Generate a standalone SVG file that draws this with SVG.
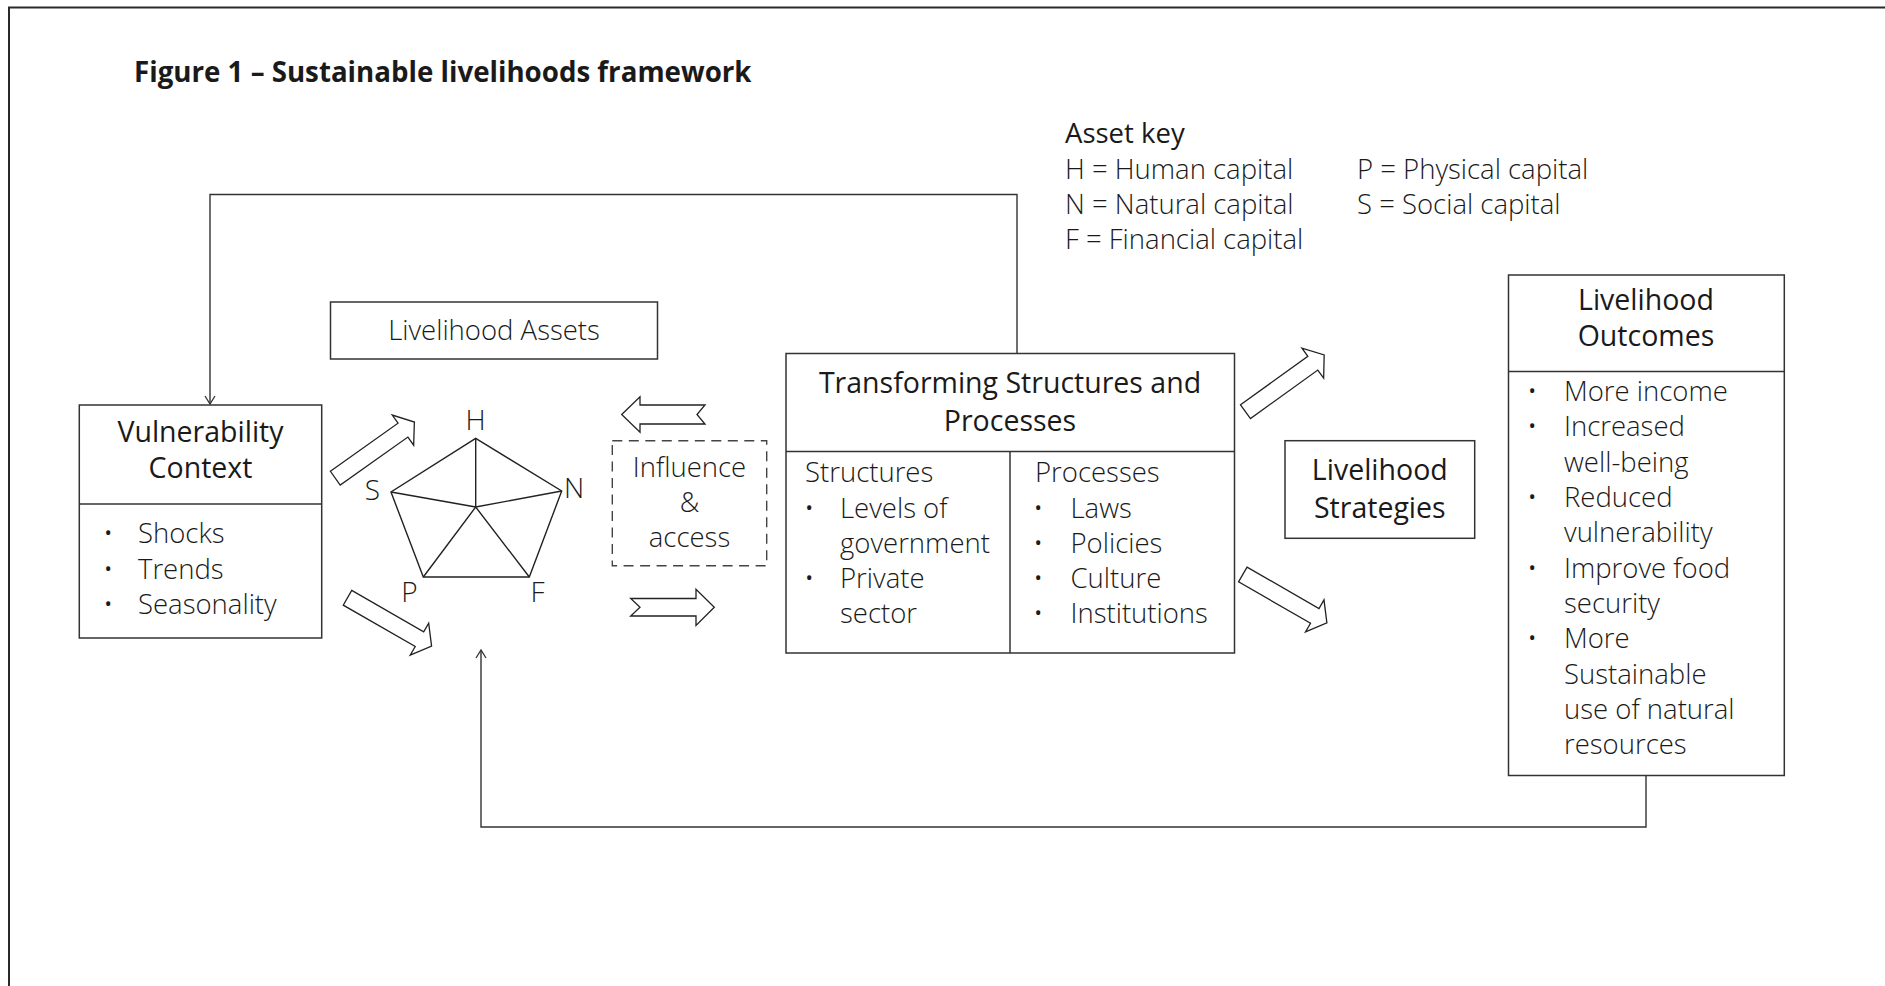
<svg xmlns="http://www.w3.org/2000/svg" xmlns:xlink="http://www.w3.org/1999/xlink" width="1885" height="986" viewBox="0 0 1885 986">
<style>
  text { font-family: "Open Sans", "Liberation Sans", Arial, sans-serif; fill: #1a1a1a; }
  .title { font-size: 27.7px; font-weight: 700; }
  .hd { font-size: 28.5px; font-weight: 400; text-anchor: middle; }
  .bd { font-size: 27.5px; font-weight: 300; }
  .bdc { font-size: 27.5px; font-weight: 300; text-anchor: middle; }
  .key { font-size: 27.5px; font-weight: 400; }
  .lbl { font-size: 28px; font-weight: 300; text-anchor: middle; }
  .box { fill: #fff; stroke: #333; stroke-width: 1.5; }
  .div { stroke: #333; stroke-width: 1.5; fill: none; }
  .dash { fill: none; stroke: #444; stroke-width: 1.4; stroke-dasharray: 10 6.5; }
  .pent { fill: none; stroke: #222; stroke-width: 1.4; stroke-linejoin: miter; }
  .conn { fill: none; stroke: #333; stroke-width: 1.4; }
  .blk { fill: #fff; stroke: #222; stroke-width: 1.3; stroke-linejoin: miter; }
  .frame { fill: none; stroke: #2a2a2a; stroke-width: 2; }
</style>
<defs>
  <marker id="vhead" markerUnits="userSpaceOnUse" markerWidth="12" markerHeight="12" refX="8" refY="5" orient="auto" overflow="visible">
    <path d="M0,0 L8,5 L0,10" fill="none" stroke="#333" stroke-width="1.3"/>
  </marker>
  <polygon id="diag" class="blk" points="0,-8.5 83,-8.5 83,-18.5 97,0 83,18.5 83,8.5 0,8.5"/>
</defs>

<path class="frame" d="M9,992 V7.5 H1892"/>

<text class="title" x="134" y="82">Figure 1 – Sustainable livelihoods framework</text>

<g id="asset-key">
  <text class="key" x="1065" y="142.5">Asset key</text>
  <text class="bd" x="1065" y="179">H = Human capital</text>
  <text class="bd" x="1065" y="213.5">N = Natural capital</text>
  <text class="bd" x="1065" y="248.5">F = Financial capital</text>
  <text class="bd" x="1357" y="179">P = Physical capital</text>
  <text class="bd" x="1357" y="213.5">S = Social capital</text>
</g>

<g id="connectors">
  <path class="conn" d="M1017,353 V194.5 H210 V404" marker-end="url(#vhead)"/>
  <path class="conn" d="M1646,775.5 V827 H481 V650" marker-end="url(#vhead)"/>
  <use xlink:href="#diag" transform="translate(335.3,478.2) rotate(-35.4)"/>
  <use xlink:href="#diag" transform="translate(347.5,597.8) rotate(29.9)"/>
  <use xlink:href="#diag" transform="translate(1245.5,411.7) rotate(-35.8)"/>
  <use xlink:href="#diag" transform="translate(1242.8,574.5) rotate(29.9)"/>
  <polygon class="blk" points="621.7,414.5 640,396.7 640,405 705,405 697,414.5 705,424 640,424 640,432.3"/>
  <polygon class="blk" points="630.7,598.5 696,598.5 696,589.3 714.3,607.3 696,625.5 696,616 630.7,616 640,607.3"/>
</g>

<g id="vulnerability-context">
  <rect class="box" x="79.3" y="405" width="242.4" height="233"/>
  <line class="div" x1="79.3" y1="504" x2="321.7" y2="504"/>
  <text class="hd" x="200.5" y="441.7">Vulnerability</text>
  <text class="hd" x="200.5" y="478">Context</text>
  <text class="bd" y="543.3"><tspan x="103">•</tspan><tspan x="138">Shocks</tspan></text>
  <text class="bd" y="578.5"><tspan x="103">•</tspan><tspan x="138">Trends</tspan></text>
  <text class="bd" y="613.5"><tspan x="103">•</tspan><tspan x="138">Seasonality</tspan></text>
</g>

<g id="livelihood-assets">
  <rect class="box" x="330.5" y="302" width="327" height="57"/>
  <text class="bdc" x="494" y="339.5">Livelihood Assets</text>
</g>

<g id="asset-pentagon">
  <polygon class="pent" points="475.7,438.3 561.7,491 529.3,577 423.3,577 391,492"/>
  <path class="pent" d="M475.7,507 L475.7,438.3 M475.7,507 L561.7,491 M475.7,507 L529.3,577 M475.7,507 L423.3,577 M475.7,507 L391,492"/>
  <text class="lbl" x="475.5" y="430">H</text>
  <text class="lbl" x="574" y="498">N</text>
  <text class="lbl" x="372.5" y="500">S</text>
  <text class="lbl" x="409.5" y="602">P</text>
  <text class="lbl" x="537.5" y="602">F</text>
</g>

<g id="influence-access">
  <rect class="dash" x="612.3" y="440.7" width="154.4" height="125"/>
  <text class="bdc" x="689.5" y="476.7">Influence</text>
  <text class="bdc" x="689.5" y="511.7">&amp;</text>
  <text class="bdc" x="689.5" y="546.7">access</text>
</g>

<g id="transforming-structures">
  <rect class="box" x="786" y="353.5" width="448.5" height="299.5"/>
  <line class="div" x1="786" y1="451.5" x2="1234.5" y2="451.5"/>
  <line class="div" x1="1010" y1="451.5" x2="1010" y2="653"/>
  <text class="hd" x="1010" y="393.3">Transforming Structures and</text>
  <text class="hd" x="1010" y="431">Processes</text>
  <text class="bd" x="805" y="481.7">Structures</text>
  <text class="bd" y="518.3"><tspan x="804">•</tspan><tspan x="840">Levels of</tspan></text>
  <text class="bd" x="840" y="553.3">government</text>
  <text class="bd" y="588.3"><tspan x="804">•</tspan><tspan x="840">Private</tspan></text>
  <text class="bd" x="840" y="623.3">sector</text>
  <text class="bd" x="1035" y="481.7">Processes</text>
  <text class="bd" y="518.3"><tspan x="1033">•</tspan><tspan x="1070.5">Laws</tspan></text>
  <text class="bd" y="553.3"><tspan x="1033">•</tspan><tspan x="1070.5">Policies</tspan></text>
  <text class="bd" y="588.3"><tspan x="1033">•</tspan><tspan x="1070.5">Culture</tspan></text>
  <text class="bd" y="623.3"><tspan x="1033">•</tspan><tspan x="1070.5">Institutions</tspan></text>
</g>

<g id="livelihood-strategies">
  <rect class="box" x="1285" y="440.7" width="189.7" height="97.6"/>
  <text class="hd" x="1379.8" y="480">Livelihood</text>
  <text class="hd" x="1379.8" y="517.7">Strategies</text>
</g>

<g id="livelihood-outcomes">
  <rect class="box" x="1508.5" y="275" width="275.8" height="500.5"/>
  <line class="div" x1="1508.5" y1="371.5" x2="1784.3" y2="371.5"/>
  <text class="hd" x="1646" y="310">Livelihood</text>
  <text class="hd" x="1646" y="346">Outcomes</text>
  <text class="bd" y="401"><tspan x="1527">•</tspan><tspan x="1564">More income</tspan></text>
  <text class="bd" y="436.3"><tspan x="1527">•</tspan><tspan x="1564">Increased</tspan></text>
  <text class="bd" x="1564" y="471.6">well-being</text>
  <text class="bd" y="507"><tspan x="1527">•</tspan><tspan x="1564">Reduced</tspan></text>
  <text class="bd" x="1564" y="542.2">vulnerability</text>
  <text class="bd" y="577.6"><tspan x="1527">•</tspan><tspan x="1564">Improve food</tspan></text>
  <text class="bd" x="1564" y="613">security</text>
  <text class="bd" y="648.3"><tspan x="1527">•</tspan><tspan x="1564">More</tspan></text>
  <text class="bd" x="1564" y="683.6">Sustainable</text>
  <text class="bd" x="1564" y="719">use of natural</text>
  <text class="bd" x="1564" y="754.3">resources</text>
</g>
</svg>
